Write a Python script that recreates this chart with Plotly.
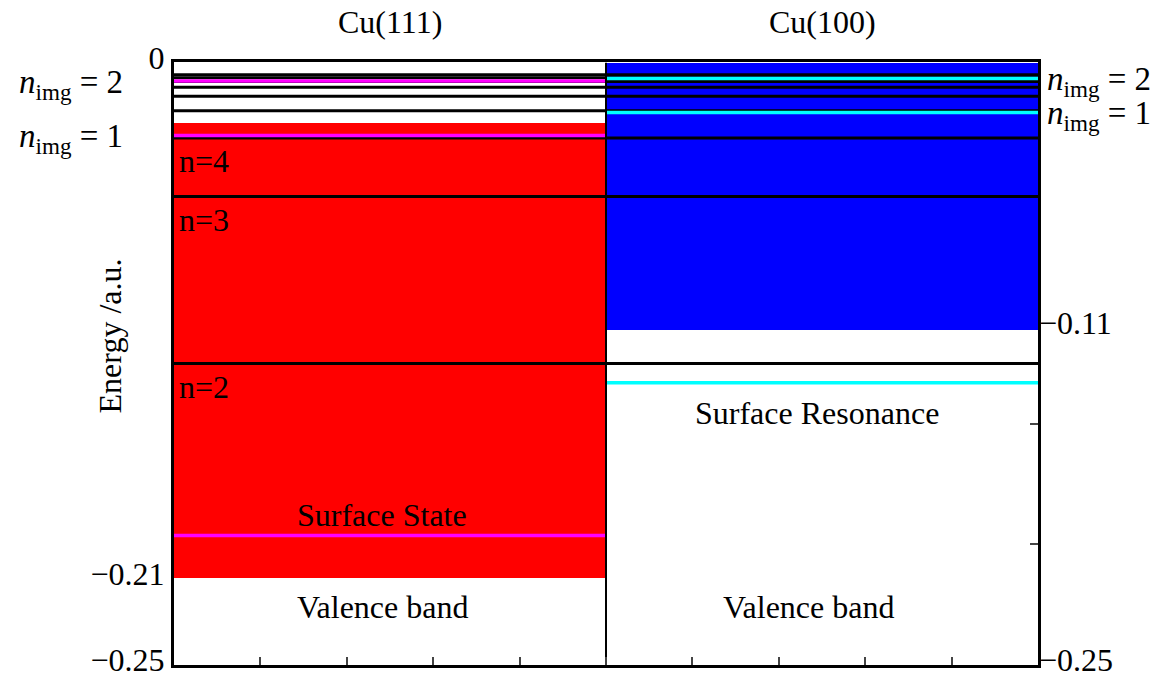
import plotly.graph_objects as go

# ---------------- data (energies in a.u.) ----------------
panels = ["Cu(111)", "Cu(100)"]
panel_edges = [0, 5, 10]

# hydrogen-like bulk levels n = 2..10 (black lines)
level_n = [2, 3, 4, 5, 6, 7, 8, 9, 10]
level_E = [-0.125, -0.0556, -0.0313, -0.0200, -0.0139, -0.0102, -0.0078, -0.0062, -0.0050]

# projected band gaps
cu111_band = [-0.2142, -0.0252]
cu100_band = [-0.1110, 0.0]

# image-potential states (n_img = 1, 2)
cu111_image = [-0.0302, -0.0076]
cu100_image = [-0.0207, -0.0066]

cu111_surface_state = -0.1964
cu100_surface_resonance = -0.1329

left_ticks = [0.0, -0.2142, -0.25]
left_ticktext = ["0", "\u22120.21", "\u22120.25"]
right_ticks = [-0.11, -0.25]
right_ticktext = ["\u22120.11", "\u22120.25"]
right_minor_ticks = [-0.15, -0.20]

FONT = "Liberation Serif, serif"
FS = 32
RED, BLUE, MAGENTA, CYAN = "#ff0000", "#0000ff", "#ff00ff", "#00ffff"
YRANGE = [-0.2502, 0.0003]

fig = go.Figure()

# bands as bars
for (lo, hi), col, (x0, x1) in [
    (cu111_band, RED, (panel_edges[0], panel_edges[1])),
    (cu100_band, BLUE, (panel_edges[1], panel_edges[2])),
]:
    fig.add_trace(go.Bar(x=[(x0 + x1) / 2], y=[hi - lo], base=[lo], width=[x1 - x0],
                         marker=dict(color=col, line_width=0), showlegend=False,
                         hoverinfo="skip"))

# bulk levels spanning both panels
lx, ly = [], []
for E in level_E:
    lx += [panel_edges[0], panel_edges[2], None]
    ly += [E, E, None]
fig.add_trace(go.Scatter(x=lx, y=ly, mode="lines", line=dict(color="black", width=3),
                         showlegend=False, hoverinfo="skip"))

# Cu(111) surface + image states (magenta)
mx, my = [], []
for E in cu111_image + [cu111_surface_state]:
    mx += [panel_edges[0], panel_edges[1], None]
    my += [E, E, None]
fig.add_trace(go.Scatter(x=mx, y=my, mode="lines", line=dict(color=MAGENTA, width=3.5),
                         showlegend=False, hoverinfo="skip"))

# Cu(100) resonance + image states (cyan) on y2
cx, cy = [], []
for E in cu100_image + [cu100_surface_resonance]:
    cx += [panel_edges[1], panel_edges[2], None]
    cy += [E, E, None]
fig.add_trace(go.Scatter(x=cx, y=cy, mode="lines", line=dict(color=CYAN, width=3.5),
                         showlegend=False, hoverinfo="skip", yaxis="y2"))

# divider between panels on y3
fig.add_trace(go.Scatter(x=[panel_edges[1], panel_edges[1]], y=[-0.25, 0.0], mode="lines",
                         line=dict(color="black", width=2), showlegend=False,
                         hoverinfo="skip", yaxis="y3"))

ann = []
def txt(x, y, s, xanchor="center", yanchor="middle", xref="x", yref="y", yshift=0, size=FS, angle=0):
    ann.append(dict(x=x, y=y, text=s, xref=xref, yref=yref, showarrow=False,
                    xanchor=xanchor, yanchor=yanchor, yshift=yshift, textangle=angle,
                    font=dict(family=FONT, size=size, color="black")))

# n labels
for n, E in zip(level_n[:3], level_E[:3]):
    txt(0.03, E, f"n={n}", xanchor="left", yshift=-23)

txt(2.41, cu111_surface_state, "Surface State", yshift=20)
txt(7.44, cu100_surface_resonance, "Surface Resonance", yshift=-30)
txt(2.41, -0.2259, "Valence band")
txt(7.34, -0.2259, "Valence band")

# n_img labels
for k, E in enumerate(cu111_image):
    txt(-0.057, E, f"<i>n</i><sub>img</sub> = {k+1}", xanchor="right", xref="paper", yshift=-3, size=33)
for k, E in enumerate(cu100_image):
    txt(1.008, E, f"<i>n</i><sub>img</sub> = {k+1}", xanchor="left", xref="paper", yshift=-3, size=33)

# panel titles
txt(0.25, 1.0, panels[0], xref="paper", yref="paper", yanchor="middle", yshift=40)
txt(0.75, 1.0, panels[1], xref="paper", yref="paper", yanchor="middle", yshift=40)

# y-axis title
txt(-0.074, 0.545, "Energy /a.u.", xref="paper", yref="paper", angle=-90)

fig.update_layout(
    width=1171, height=679,
    margin=dict(l=174, r=133, t=62, b=14, autoexpand=False),
    paper_bgcolor="white", plot_bgcolor="white",
    barmode="overlay", bargap=0,
    font=dict(family=FONT, size=FS, color="black"),
    annotations=ann,
    xaxis=dict(range=[panel_edges[0], panel_edges[2]], showgrid=False, zeroline=False,
               showline=True, linewidth=3, linecolor="black", mirror=True,
               ticks="inside", tickvals=[1, 2, 3, 4, 5, 6, 7, 8, 9], ticklen=8,
               tickcolor="#444", tickwidth=1.5, showticklabels=False, automargin=False),
    yaxis=dict(range=YRANGE, showgrid=False, zeroline=False,
               showline=True, linewidth=3, linecolor="black", mirror=True,
               tickvals=left_ticks, ticktext=left_ticktext, ticks="",
               ticklabeloverflow="allow", automargin=False, ticklabelshift=-5,
               tickfont=dict(family=FONT, size=FS, color="black")),
    yaxis2=dict(overlaying="y", side="right", matches="y", showgrid=False, zeroline=False,
                showline=False, tickvals=right_ticks, ticktext=right_ticktext, ticks="",
                ticklabeloverflow="allow", automargin=False, ticklabelshift=-5,
                tickfont=dict(family=FONT, size=FS, color="black")),
    yaxis3=dict(overlaying="y", side="right", matches="y", showgrid=False, zeroline=False,
                showline=False, tickvals=right_minor_ticks, ticks="inside", ticklen=8,
                tickcolor="#444", tickwidth=1.5, showticklabels=False, automargin=False),
)

fig.write_html("out.html")
